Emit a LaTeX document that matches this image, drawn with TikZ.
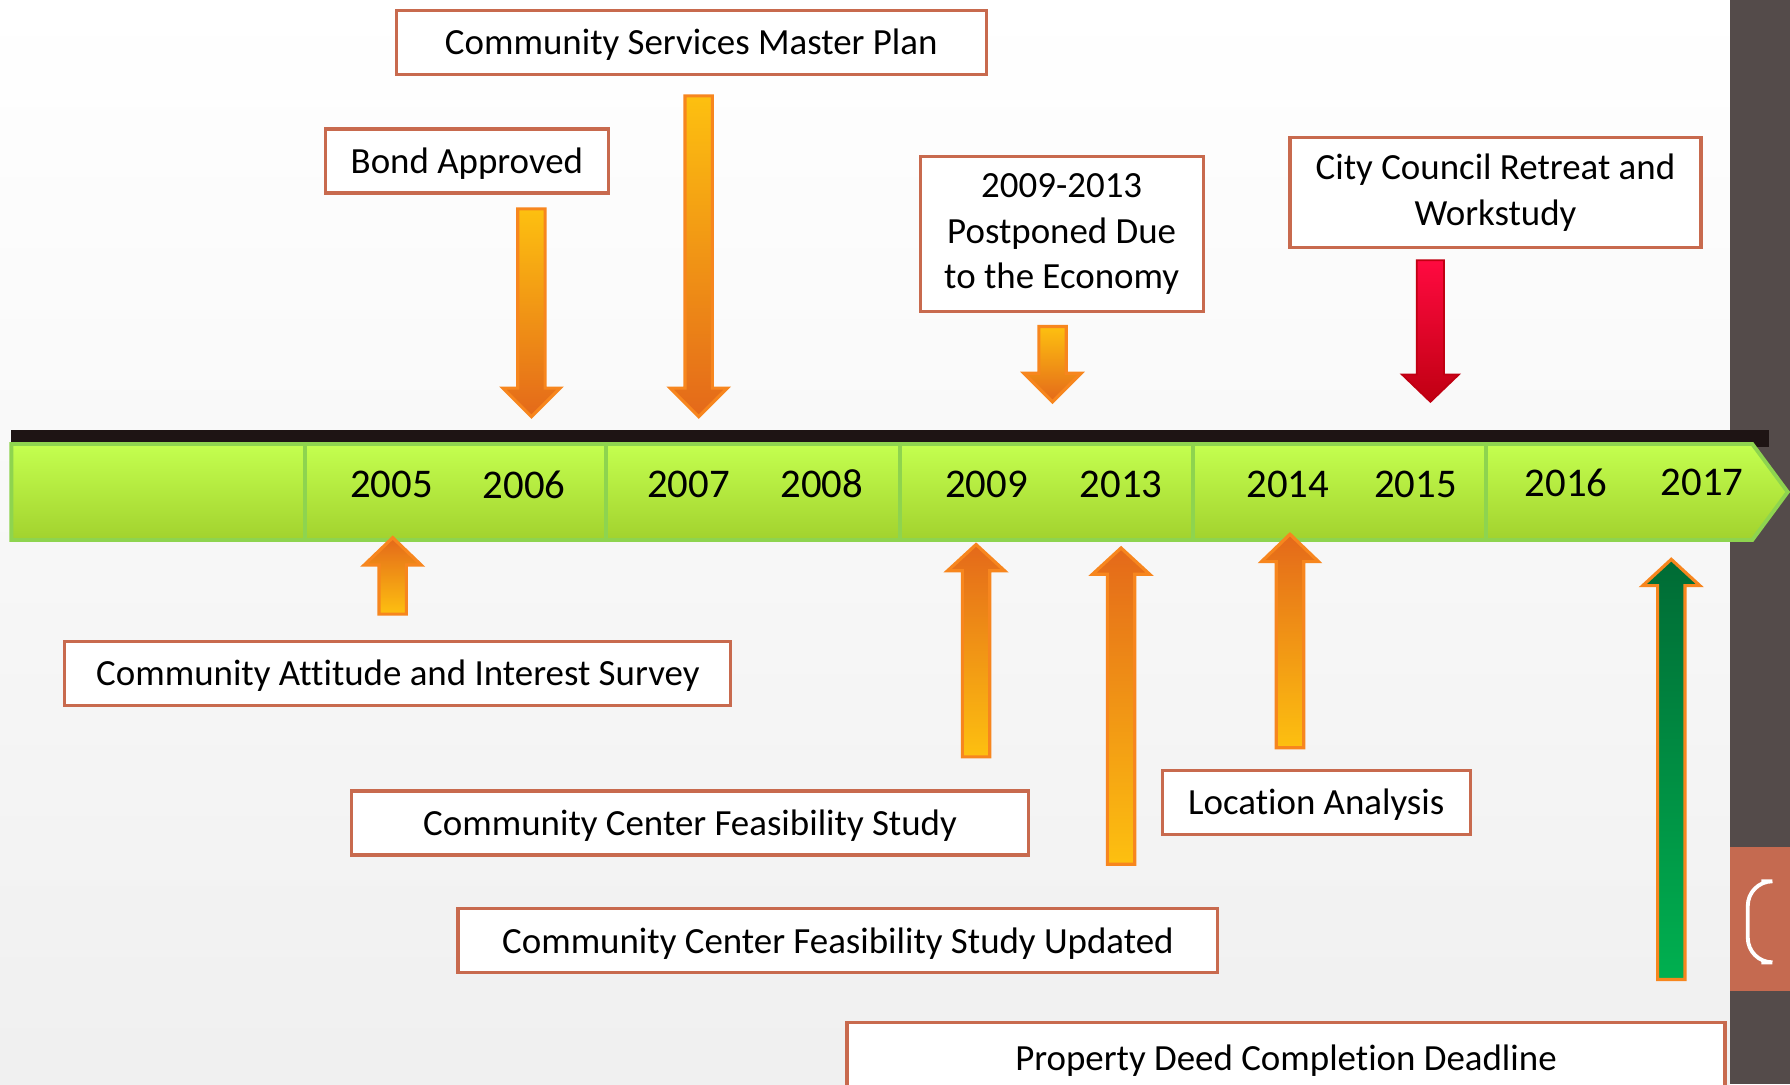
\documentclass[tikz,border=0pt]{standalone}
\usepackage{fontspec}
\setmainfont{Carlito}[Ligatures=NoCommon]
\usetikzlibrary{positioning}
\definecolor{Frame}{HTML}{C86A4E}
\definecolor{Amber}{HTML}{FDC010}
\definecolor{Pumpkin}{HTML}{E4691A}
\definecolor{Rim}{HTML}{F7861E}
\definecolor{RedTop}{HTML}{FF0A40}
\definecolor{RedBot}{HTML}{C00012}
\definecolor{GreenTop}{HTML}{006B35}
\definecolor{GreenBot}{HTML}{00B050}
\definecolor{LimeTop}{HTML}{C4FF4F}
\definecolor{LimeBot}{HTML}{A2D22E}
\definecolor{LimeLine}{HTML}{8ED44F}
\definecolor{Strip}{HTML}{1E1414}
\definecolor{Panel}{HTML}{544B4A}
\definecolor{Tab}{HTML}{C56A50}
\tikzset{
  note/.style={draw=Frame,fill=white,line width=.9pt,minimum height=.64cm,
    align=center,font=\fontsize{10.5}{13}\selectfont,inner sep=2pt},
  onenote/.style={note,text height=.95em,text depth=.24em},
  year/.style={font=\fontsize{11.6}{14}\selectfont},
  orangedown/.style={top color=Amber,bottom color=Pumpkin,draw=Rim,line width=.9pt},
  orangeup/.style={top color=Pumpkin,bottom color=Amber,draw=Rim,line width=.9pt},
  reddown/.style={top color=RedTop,bottom color=RedBot,draw=RedBot,line width=.5pt},
  greenup/.style={top color=GreenTop,bottom color=GreenBot,draw=Rim,line width=.9pt}
}
% block arrow: x, tail y, head base y, tip y
\newcommand\blockarrow[5][]{\path[#1] (#2-12,#3) -- (#2-12,#4) -- (#2-25,#4) -- (#2,#5)
  -- (#2+25,#4) -- (#2+12,#4) -- (#2+12,#3) -- cycle;}
\begin{document}
\begin{tikzpicture}[x=0.11416mm,y=-0.11416mm]
  \useasboundingbox (0,0) rectangle (1568,950);
  \clip (0,0) rectangle (1568,950);
  \shade[top color=white,bottom color=gray!12] (0,0) rectangle (1515,950);
  \fill[Panel] (1515,0) rectangle (1568,950);
  \fill[Tab] (1515,742) rectangle (1568,868);
  \draw[white,line width=1.1pt,rounded corners=7] (1543,772) -- (1531,772) -- (1531,843) -- (1543,843);

  % timeline bar
  \fill[Strip] (10,377) rectangle (1550,392);
  \path[top color=LimeTop,bottom color=LimeBot,draw=LimeLine,line width=1.1pt]
    (10,389) -- (1535,389) -- (1566,431) -- (1535,473) -- (10,473) -- cycle;
  \foreach \x in {267,531,788,1045,1302}
    \draw[LimeLine,line width=1.1pt] (\x,389) -- (\x,473);
  \node[year] (y05) at (343,424) {2005};
  \node[year] (y06) at (459,425) {2006};
  \node[year] (y07) at (603,424) {2007};
  \node[year] (y08) at (720,424) {2008};
  \node[year] (y09) at (864,424) {2009};
  \node[year] (y13) at (982,424) {2013};
  \node[year] (y14) at (1128,424) {2014};
  \node[year] (y15) at (1240,424) {2015};
  \node[year] (y16) at (1372,423) {2016};
  \node[year] (y17) at (1491,423) {2017};

  % events above
  \node[onenote,minimum width=5.9cm] (master) at (605.5,37) {Community Services Master Plan};
  \node[onenote,minimum width=2.83cm] (bond) at (409,141) {Bond Approved};
  \node[note,minimum width=2.83cm,minimum height=1.55cm] (delay) at (930,205)
    {2009-2013\\Postponed Due\\to the Economy};
  \node[note,minimum width=4.11cm,minimum height=1.1cm] (council) at (1310,169)
    {City Council Retreat and\\Workstudy};
  \blockarrow[orangedown]{465.5}{183}{340}{365}
  \blockarrow[orangedown]{612}{84}{340}{365}
  \blockarrow[orangedown]{922}{286}{327}{352}
  \blockarrow[reddown]{1253}{228}{328}{352}

  % events below
  \node[onenote,minimum width=6.66cm] (survey) at (348.5,590) {Community Attitude and Interest Survey};
  \node[onenote,minimum width=6.77cm] (study) at (604.5,721) {Community Center Feasibility Study};
  \node[onenote,minimum width=7.6cm] (update) at (734,824) {Community Center Feasibility Study Updated};
  \node[onenote,minimum width=3.08cm] (site) at (1153,703) {Location Analysis};
  \node[onenote,minimum width=8.78cm,minimum height=.71cm] (deed) at (1126.5,927) {Property Deed Completion Deadline};
  \blockarrow[orangeup]{344}{538}{495}{471}
  \blockarrow[orangeup]{855}{663}{500}{477}
  \blockarrow[orangeup]{982}{757}{503}{480}
  \blockarrow[orangeup]{1130}{655}{492}{468}
  \blockarrow[greenup]{1464}{858}{513}{490}
\end{tikzpicture}
\end{document}
